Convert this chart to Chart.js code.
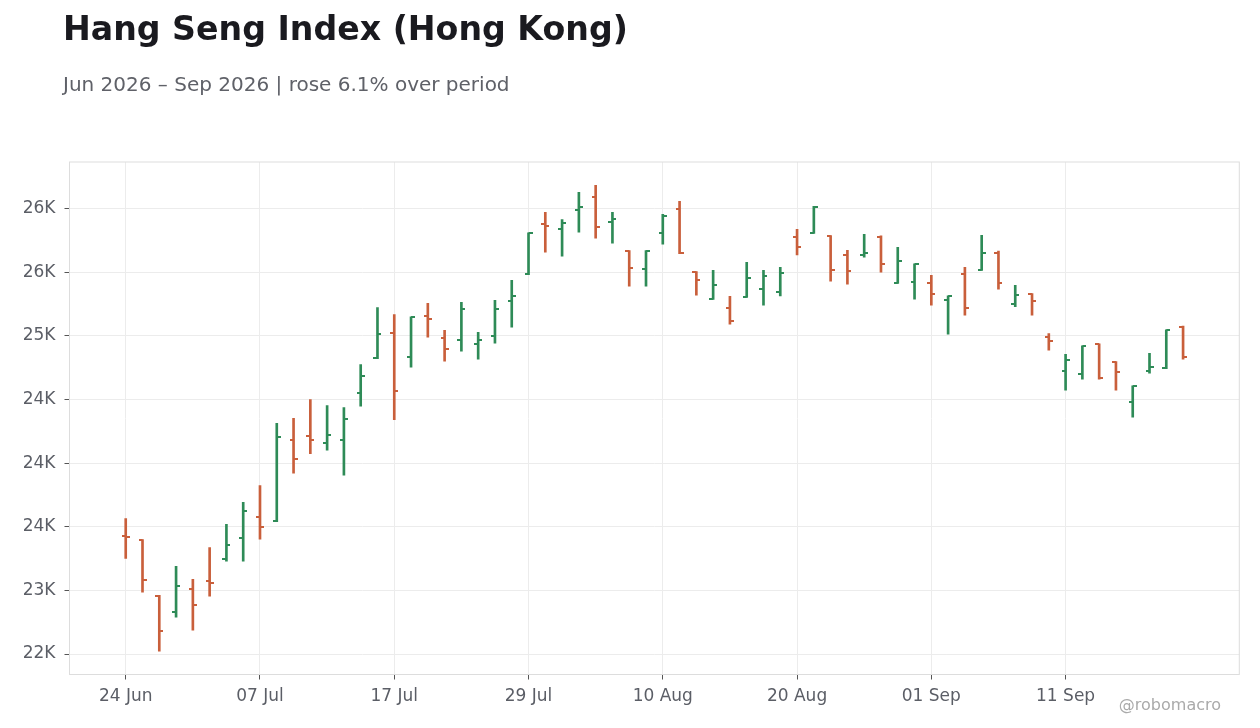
<!DOCTYPE html>
<html lang="en">
<head>
  <meta charset="UTF-8">
  <title>Hang Seng Index (Hong Kong)</title>
  <script src="https://cdn.jsdelivr.net/npm/chart.js@4.4.1/dist/chart.umd.min.js"></script>
  <style>
    body { margin: 0; background: #fff; font-family: 'DejaVu Sans', sans-serif; }
    #wrap { position: relative; width: 1260px; height: 728px; overflow: hidden; }
    canvas { position: absolute; left: 0; top: 0; }
    #title { position: absolute; left: 63px; top: 12px; font-size: 33.2px; font-weight: bold; line-height: 1; color: #1a1a1f; white-space: nowrap; }
    #subtitle { position: absolute; left: 63px; top: 74px; font-size: 20px; line-height: 1; color: #5f6168; white-space: nowrap; }
    #credit { position: absolute; right: 39px; top: 697px; font-size: 16px; line-height: 1; color: #aaaaaa; white-space: nowrap; }
  </style>
</head>
<body>
  <div id="wrap">
    <canvas id="ohlc" width="1260" height="728"></canvas>
    <div id="title">Hang Seng Index (Hong Kong)</div>
    <div id="subtitle">Jun 2026 – Sep 2026 | rose 6.1% over period</div>
    <div id="credit">@robomacro</div>
  </div>

  <script>
    // trading days (HK calendar, 1 Jul holiday)
    const dates = [
      '2026-06-24', '2026-06-25', '2026-06-26', '2026-06-29', '2026-06-30', '2026-07-02', '2026-07-03', '2026-07-06',
      '2026-07-07', '2026-07-08', '2026-07-09', '2026-07-10', '2026-07-13', '2026-07-14', '2026-07-15', '2026-07-16',
      '2026-07-17', '2026-07-20', '2026-07-21', '2026-07-22', '2026-07-23', '2026-07-24', '2026-07-27', '2026-07-28',
      '2026-07-29', '2026-07-30', '2026-07-31', '2026-08-03', '2026-08-04', '2026-08-05', '2026-08-06', '2026-08-07',
      '2026-08-10', '2026-08-11', '2026-08-12', '2026-08-13', '2026-08-14', '2026-08-17', '2026-08-18', '2026-08-19',
      '2026-08-20', '2026-08-21', '2026-08-24', '2026-08-25', '2026-08-26', '2026-08-27', '2026-08-28', '2026-08-31',
      '2026-09-01', '2026-09-02', '2026-09-03', '2026-09-04', '2026-09-07', '2026-09-08', '2026-09-09', '2026-09-10',
      '2026-09-11', '2026-09-14', '2026-09-15', '2026-09-16', '2026-09-17', '2026-09-18', '2026-09-21', '2026-09-22'
    ];

    const opens = [
      23426, 23394, 22954, 22829, 23009, 23072, 23245, 23410,
      23575, 23544, 24180, 24212, 24157, 24180, 24550, 24825,
      25021, 24833, 25155, 24982, 24964, 24935, 24998, 25273,
      25483, 25878, 25839, 25988, 26090, 25894, 25666, 25525,
      25807, 25996, 25501, 25289, 25218, 25305, 25367, 25344,
      25776, 25807, 25784, 25635, 25635, 25776, 25414, 25422,
      25414, 25282, 25486, 25517, 25650, 25249, 25328, 24990,
      24723, 24699, 24935, 24794, 24479, 24723, 24746, 25069
    ];
    const highs = [
      23565, 23400, 22962, 23188, 23086, 23337, 23518, 23691,
      23824, 24312, 24351, 24500, 24453, 24437, 24775, 25223,
      25168, 25150, 25255, 25043, 25263, 25027, 25279, 25436,
      25810, 25970, 25913, 26127, 26183, 25970, 25670, 25670,
      25955, 26057, 25505, 25514, 25310, 25577, 25514, 25538,
      25836, 26018, 25788, 25672, 25797, 25786, 25695, 25566,
      25475, 25315, 25538, 25789, 25666, 25396, 25332, 25017,
      24854, 24922, 24938, 24798, 24608, 24862, 25048, 25077
    ];
    const lows = [
      23251, 22986, 22522, 22789, 22687, 22954, 23229, 23229,
      23402, 23540, 23921, 24074, 24102, 23905, 24448, 24821,
      24341, 24754, 24990, 24801, 24880, 24817, 24943, 25069,
      25480, 25658, 25627, 25815, 25768, 25729, 25391, 25391,
      25721, 25645, 25320, 25286, 25092, 25302, 25242, 25313,
      25635, 25804, 25430, 25407, 25619, 25501, 25411, 25289,
      25242, 25014, 25163, 25514, 25367, 25229, 25163, 24888,
      24573, 24660, 24660, 24573, 24361, 24707, 24743, 24817
    ];
    const closes = [
      23418, 23078, 22679, 23033, 22884, 23056, 23355, 23622,
      23497, 24204, 24029, 24180, 24220, 24346, 24684, 25014,
      24566, 25147, 25132, 24896, 25208, 24966, 25210, 25312,
      25807, 25860, 25886, 26012, 25855, 25918, 25532, 25666,
      25941, 25648, 25438, 25399, 25113, 25455, 25470, 25494,
      25697, 26015, 25517, 25509, 25650, 25564, 25587, 25564,
      25328, 25312, 25218, 25650, 25414, 25320, 25273, 24959,
      24809, 24919, 24668, 24715, 24605, 24754, 25045, 24833
    ];

    const xTickDates = ['2026-06-24', '2026-07-07', '2026-07-17', '2026-07-29', '2026-08-10', '2026-08-20', '2026-09-01', '2026-09-11'];
    const xTickLabels = ['24 Jun', '07 Jul', '17 Jul', '29 Jul', '10 Aug', '20 Aug', '01 Sep', '11 Sep'];
    const yTicks = [22500, 23000, 23500, 24000, 24500, 25000, 25500, 26000];
    const yTickLabels = ['22K', '23K', '24K', '24K', '24K', '25K', '26K', '26K'];

    const UP = '#2e8b57';
    const DOWN = '#c95f3b';
    const isUp = i => closes[i] >= opens[i];

    // little open/close ticks used as point images
    function tickImage(color, side) {
      const c = document.createElement('canvas');
      c.width = 8;
      c.height = 2;
      const g = c.getContext('2d');
      g.fillStyle = color;
      g.fillRect(side === 'left' ? 0 : 4, 0, 4, 2);
      return c;
    }
    const openUp = tickImage(UP, 'left'), openDown = tickImage(DOWN, 'left');
    const closeUp = tickImage(UP, 'right'), closeDown = tickImage(DOWN, 'right');

    const frame = {
      id: 'frame',
      beforeDatasetsDraw(chart) {
        const { ctx, chartArea: a } = chart;
        ctx.save();
        ctx.strokeStyle = '#dddddd';
        ctx.lineWidth = 1;
        ctx.strokeRect(a.left, a.top, a.right - a.left, a.bottom - a.top);
        ctx.restore();
      }
    };

    const tickFont = { family: "'DejaVu Sans', sans-serif", size: 17 };

    new Chart(document.getElementById('ohlc'), {
      type: 'bar',
      data: {
        datasets: [
          {
            type: 'line',
            data: opens.map((v, i) => ({ x: i, y: v })),
            showLine: false,
            pointRadius: 4,
            pointStyle: ctx => isUp(ctx.dataIndex) ? openUp : openDown,
            order: 1
          },
          {
            type: 'line',
            data: closes.map((v, i) => ({ x: i, y: v })),
            showLine: false,
            pointRadius: 4,
            pointStyle: ctx => isUp(ctx.dataIndex) ? closeUp : closeDown,
            order: 1
          },
          {
            type: 'bar',
            data: highs.map((v, i) => ({ x: i, y: [lows[i], v] })),
            backgroundColor: ctx => isUp(ctx.dataIndex) ? UP : DOWN,
            borderWidth: 0,
            barThickness: 2,
            grouped: false,
            order: 2
          }
        ]
      },
      options: {
        responsive: false,
        animation: false,
        events: [],
        layout: { padding: { left: 0, top: 162, right: 20.7, bottom: 13.5 } },
        plugins: { legend: { display: false }, tooltip: { enabled: false } },
        scales: {
          x: {
            type: 'linear',
            offset: false,
            min: -3.35,
            max: 66.35,
            afterBuildTicks: s => { s.ticks = xTickDates.map(d => ({ value: dates.indexOf(d) })); },
            afterFit: s => { s.height = 40; },
            ticks: {
              autoSkip: false,
              maxRotation: 0,
              color: '#5b5e66',
              font: tickFont,
              padding: 7,
              callback: (v, i) => xTickLabels[i]
            },
            grid: { offset: false, color: '#ececec', tickColor: '#555555', tickLength: 5 },
            border: { display: false }
          },
          y: {
            min: 22339,
            max: 26366,
            afterBuildTicks: s => { s.ticks = yTicks.map(v => ({ value: v })); },
            afterFit: s => { s.width = 69.5; },
            ticks: {
              color: '#5b5e66',
              font: tickFont,
              padding: 9,
              callback: (v, i) => yTickLabels[i]
            },
            grid: { color: '#ececec', tickColor: '#555555', tickLength: 5 },
            border: { display: false }
          }
        }
      },
      plugins: [frame]
    });
  </script>
</body>
</html>
